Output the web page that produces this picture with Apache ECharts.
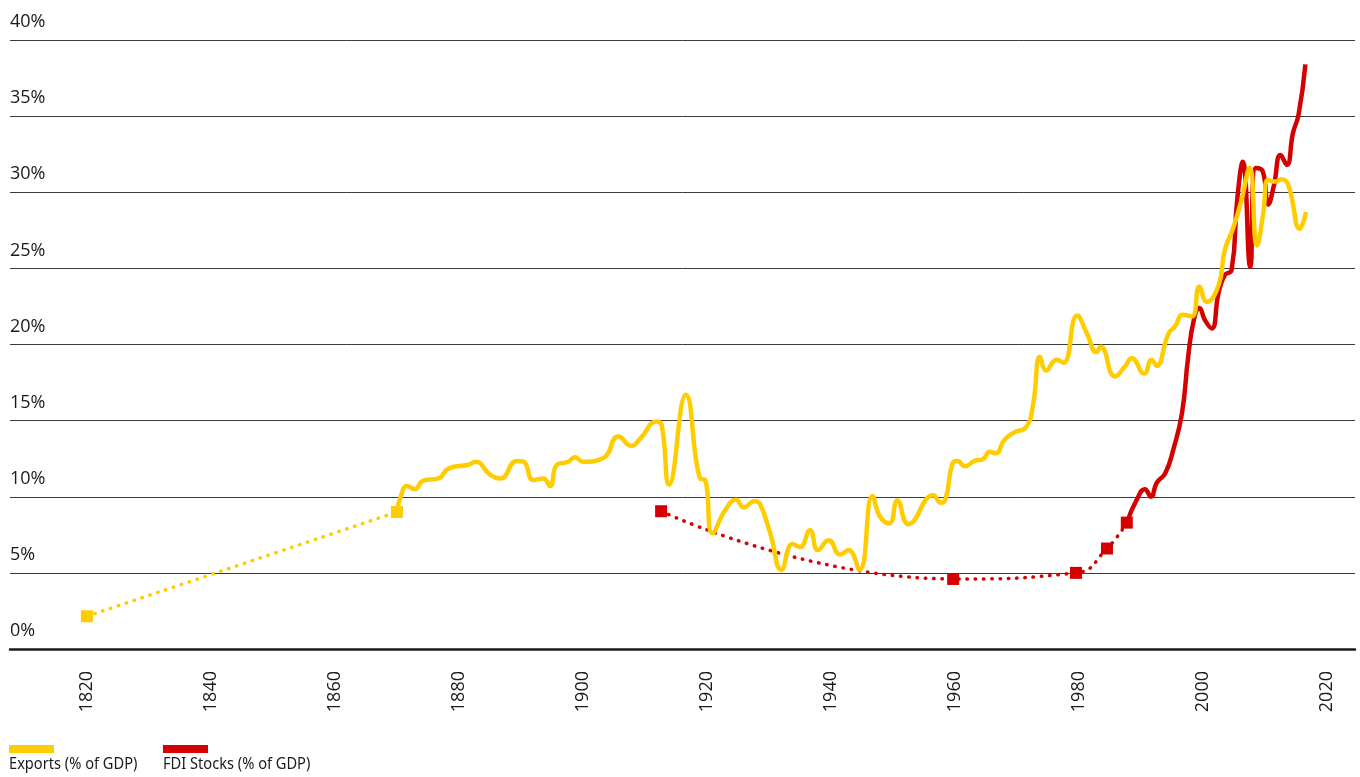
<!DOCTYPE html>
<html>
<head>
<meta charset="utf-8">
<script src="https://cdn.jsdelivr.net/npm/echarts@6/dist/echarts.min.js"></script>
<style>
html,body{margin:0;padding:0;background:#fff;}
#chart{width:1360px;height:777px;}
</style>
</head>
<body>
<div id="chart"></div>
<script>
// ---- Data ----
var xTickYears = [1820, 1840, 1860, 1880, 1900, 1920, 1940, 1960, 1980, 2000, 2020];

// Exports (% of GDP): sparse early estimates (dotted)
var exportsEarlyYears  = [1820, 1870];
var exportsEarlyValues = [2.15, 9.0];

// Exports (% of GDP): continuous series (solid)
var exportsYears = [1870,1870.6,1871.6,1872.9,1874.2,1876.7,1878.3,1881.5,1882.7,1885,1886.7,1889.3,1890.4,1892,1893.6,1894.7,1895.8,1897.6,1898.7,1900,1903.3,1905.7,1907.8,1909.2,1911.9,1912.7,1913.9,1916.6,1918.9,1919.7,1920.9,1922.9,1924.7,1925.9,1927.7,1928.5,1930.2,1932,1933.8,1935,1936.6,1937.9,1939.6,1941.5,1942.8,1944.6,1946.7,1947.9,1949.4,1950.7,1952.5,1956.5,1957.7,1958.5,1959.6,1960.4,1961.6,1963.1,1964.6,1965.6,1966.6,1967.9,1969.4,1971.5,1972.6,1973.7,1974.7,1976.4,1977.5,1979.7,1981.3,1982.8,1983.5,1985.8,1987.4,1988.5,1990.5,1991.7,1992.5,1994.4,1995.5,1996.7,1998.2,1999.4,2000.6,2002.5,2003.5,2004.9,2006.2,2007.5,2008.7,2009.7,2010.5,2011.6,2012.7,2013.8,2015.6,2016.6];
var exportsValues = [9.0,10.0,10.7,10.5,11.05,11.2,11.85,12.1,12.3,11.45,11.2,12.35,12.3,11.1,11.2,10.7,12.1,12.3,12.6,12.3,12.55,13.95,13.35,13.8,14.95,14.7,10.8,16.7,11.2,11.1,7.6,9.1,9.8,9.3,9.7,9.55,7.6,5.2,6.9,6.7,7.8,6.5,7.15,6.2,6.5,5.2,10.05,8.7,8.25,9.75,8.2,10.1,9.6,9.9,12.2,12.35,12.0,12.35,12.5,12.95,12.85,13.7,14.2,14.6,16.1,19.2,18.3,19.0,18.8,21.9,20.7,19.5,19.85,17.9,18.55,19.1,18.1,19.0,18.6,20.7,21.2,21.95,21.85,23.8,22.8,23.9,26.2,27.7,29.5,31.6,26.5,28.6,30.8,30.7,30.85,30.4,27.6,28.7];

// FDI Stocks (% of GDP): sparse estimates (dotted)
var fdiEarlyYears  = [1912.6, 1959.7, 1979.5, 1984.5, 1987.7];
var fdiEarlyValues = [9.05, 4.6, 5.0, 6.6, 8.3];

// FDI Stocks (% of GDP): continuous series (solid)
var fdiYears  = [1987.7,1989.3,1990.6,1991.6,1992.5,1993.9,1995.2,1996.6,1997.6,1998.5,1999.4,2000.3,2001.4,2002.5,2003.5,2004.6,2005.5,2006.4,2007.6,2008.5,2009.6,2010.5,2011.4,2012.5,2013.5,2014.5,2015.4,2016.5];
var fdiValues = [8.3,9.8,10.5,10.0,10.9,11.55,13.1,15.5,19.2,21.6,22.4,21.6,21.05,23.4,24.55,24.9,29.5,32.0,25.1,31.6,31.4,29.2,30.4,32.45,31.8,33.9,35.1,38.4];

var seriesNames = ['Exports (% of GDP)', 'FDI Stocks (% of GDP)'];
var seriesColors = ['#FFCC00', '#D50000'];

function zip(xs, ys) { return xs.map(function (x, i) { return [x, ys[i]]; }); }

var chart = echarts.init(document.getElementById('chart'), null, { renderer: 'canvas' });

var dotted = { width: 3.5, type: [0.5, 7.8], cap: 'round' };
var legendFont = { fontSize: 17, fontFamily: 'Noto Sans', fill: '#1a1a1a' };

chart.setOption({
  animation: false,
  backgroundColor: '#ffffff',
  grid: { left: 10, right: 5, top: 40, bottom: 128 },
  xAxis: {
    type: 'value',
    min: 1807.6,
    max: 2024.5,
    splitLine: { show: false },
    axisTick: { show: false },
    axisLine: { show: true, lineStyle: { color: '#1a1a1a', width: 2.5 } },
    axisLabel: {
      customValues: xTickYears,
      formatter: function (v) { return String(v); },
      rotate: 90,
      margin: 22,
      fontSize: 18,
      fontFamily: 'Open Sans',
      color: '#1a1a1a'
    }
  },
  yAxis: {
    type: 'value',
    min: 0,
    max: 40,
    interval: 5,
    axisLine: { show: false },
    axisTick: { show: false },
    splitLine: { show: true, lineStyle: { color: '#3a3a3a', width: 1 } },
    axisLabel: {
      inside: true,
      margin: 0,
      formatter: '{value}%',
      verticalAlign: 'bottom',
      padding: [0, 0, 9, 0],
      fontSize: 18,
      fontFamily: 'Open Sans',
      color: '#1a1a1a'
    }
  },
  series: [
    {
      name: seriesNames[1] + ' est.',
      type: 'line',
      data: zip(fdiEarlyYears, fdiEarlyValues),
      smooth: true,
      symbol: 'rect',
      symbolSize: 12,
      showSymbol: true,
      itemStyle: { color: seriesColors[1] },
      lineStyle: Object.assign({ color: seriesColors[1] }, dotted),
      z: 2
    },
    {
      name: seriesNames[1],
      type: 'line',
      data: zip(fdiYears, fdiValues),
      smooth: true,
      showSymbol: false,
      lineStyle: { color: seriesColors[1], width: 4.5 },
      z: 2
    },
    {
      name: seriesNames[0] + ' est.',
      type: 'line',
      data: zip(exportsEarlyYears, exportsEarlyValues),
      smooth: true,
      symbol: 'rect',
      symbolSize: 12,
      showSymbol: true,
      itemStyle: { color: seriesColors[0] },
      lineStyle: Object.assign({ color: seriesColors[0] }, dotted),
      z: 3
    },
    {
      name: seriesNames[0],
      type: 'line',
      data: zip(exportsYears, exportsValues),
      smooth: true,
      showSymbol: false,
      lineStyle: { color: seriesColors[0], width: 4.5 },
      z: 3
    }
  ],
  graphic: [
    { type: 'rect', left: 9, top: 745, shape: { width: 45, height: 8 }, style: { fill: seriesColors[0] } },
    { type: 'text', x: 9, y: 756, scaleX: 0.86, style: Object.assign({ text: seriesNames[0] }, legendFont) },
    { type: 'rect', left: 163, top: 745, shape: { width: 45, height: 8 }, style: { fill: seriesColors[1] } },
    { type: 'text', x: 163, y: 756, scaleX: 0.86, style: Object.assign({ text: seriesNames[1] }, legendFont) }
  ]
});
</script>
</body>
</html>
